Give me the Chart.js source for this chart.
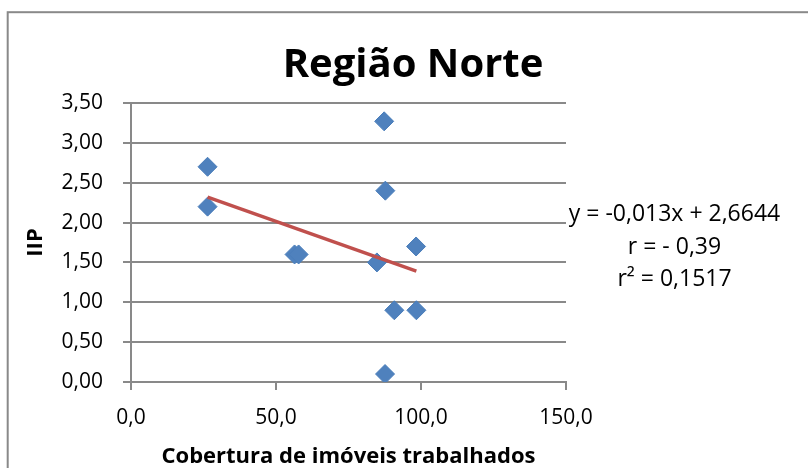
<!DOCTYPE html>
<html>
<head>
<meta charset="utf-8">
<script src="https://cdn.jsdelivr.net/npm/chart.js@4.4.1/dist/chart.umd.min.js"></script>
<style>
  html, body { margin: 0; padding: 0; background: #fff; }
  #wrap { width: 808px; height: 468px; }
</style>
</head>
<body>
<div id="wrap"><canvas id="chart" width="808" height="468"></canvas></div>
<script>
// values
const coberturaX = [26.4, 26.4, 56.4, 57.8, 84.8, 87.3, 87.7, 87.6, 90.8, 98.3, 98.4];
const iipY = [2.70, 2.20, 1.60, 1.60, 1.50, 3.27, 2.40, 0.10, 0.90, 1.70, 0.90];

// trend line end points
const trendX = [26.4, 98.4];
const trendY = [2.32, 1.39];

const xTickLabels = ['0,0', '50,0', '100,0', '150,0'];
const yTickLabels = ['0,00', '0,50', '1,00', '1,50', '2,00', '2,50', '3,00', '3,50'];

const chartTitle = 'Região Norte';
const xTitle = 'Cobertura de imóveis trabalhados';
const yTitle = 'IIP';
const equationLines = ['y = -0,013x + 2,6644', 'r = - 0,39', 'r² = 0,1517'];

const gridColor = '#898989';
const FONT = "'Open Sans', 'Noto Sans', sans-serif";

const points = coberturaX.map((x, i) => ({ x: x, y: iipY[i] }));
const trend = trendX.map((x, i) => ({ x: x, y: trendY[i] }));

const decorations = {
    id: 'decorations',
    beforeDraw(chart) {
        const ctx = chart.ctx;
        ctx.save();
        ctx.fillStyle = '#fff';
        ctx.fillRect(0, 0, chart.width, chart.height);
        ctx.strokeStyle = gridColor;
        ctx.lineWidth = 2;
        ctx.strokeRect(7.7, 12.2, chart.width + 20, chart.height + 20);
        ctx.restore();
    },
    afterDraw(chart) {
        const ctx = chart.ctx;
        ctx.save();
        ctx.fillStyle = '#000';
        ctx.textAlign = 'center';
        ctx.textBaseline = 'alphabetic';
        ctx.font = "bold 40px " + FONT;
        ctx.fillText(chartTitle, 413, 77);

        ctx.font = "23px " + FONT;
        const baselines = [220.5, 253.5, 286];
        equationLines.forEach((line, i) => {
            ctx.fillText(line, 674.5, baselines[i]);
        });
        ctx.restore();
    }
};

new Chart(document.getElementById('chart'), {
    type: 'scatter',
    data: {
        datasets: [{
            label: 'IIP',
            data: points,
            pointStyle: 'rectRot',
            pointRadius: 9.5,
            pointHoverRadius: 9.5,
            backgroundColor: '#4F81BD',
            borderColor: '#4A7EBB',
            borderWidth: 1,
            order: 2
        }, {
            label: 'Linear',
            data: trend,
            showLine: true,
            pointRadius: 0,
            borderColor: '#C0504D',
            borderWidth: 3.5,
            order: 1
        }]
    },
    options: {
        responsive: false,
        animation: false,
        events: [],
        layout: {
            padding: { top: 103, right: 242, bottom: 0, left: 0 }
        },
        plugins: {
            legend: { display: false },
            title: { display: false },
            tooltip: { enabled: false }
        },
        scales: {
            x: {
                type: 'linear',
                min: 0,
                max: 150,
                afterBuildTicks: scale => {
                    scale.ticks = xTickLabels.map((t, i) => ({ value: i * 50 }));
                },
                afterFit: scale => { scale.height = 86; },
                grid: {
                    drawOnChartArea: false,
                    drawTicks: true,
                    tickLength: 8,
                    color: gridColor,
                    lineWidth: 2
                },
                border: { display: true, color: gridColor, width: 2 },
                ticks: {
                    color: '#000',
                    padding: 15,
                    maxRotation: 0,
                    font: { family: FONT, size: 21 },
                    callback: (value, index) => xTickLabels[index]
                },
                title: {
                    display: true,
                    text: xTitle,
                    color: '#000',
                    padding: { top: 0, bottom: 0 },
                    font: { family: FONT, size: 22, weight: 'bold', lineHeight: 1 }
                }
            },
            y: {
                type: 'linear',
                min: 0,
                max: 3.5,
                afterBuildTicks: scale => {
                    scale.ticks = yTickLabels.map((t, i) => ({ value: i * 0.5 }));
                },
                afterFit: scale => { scale.width = 131; },
                grid: {
                    drawOnChartArea: true,
                    drawTicks: true,
                    tickLength: 8,
                    color: gridColor,
                    lineWidth: 2
                },
                border: { display: true, color: gridColor, width: 2 },
                ticks: {
                    color: '#000',
                    padding: 20,
                    font: { family: FONT, size: 21 },
                    callback: (value, index) => yTickLabels[index]
                },
                title: {
                    display: true,
                    text: yTitle,
                    color: '#000',
                    padding: { top: 25, bottom: 0 },
                    font: { family: FONT, size: 22, weight: 'bold', lineHeight: 1 }
                }
            }
        }
    },
    plugins: [decorations]
});
</script>
</body>
</html>
